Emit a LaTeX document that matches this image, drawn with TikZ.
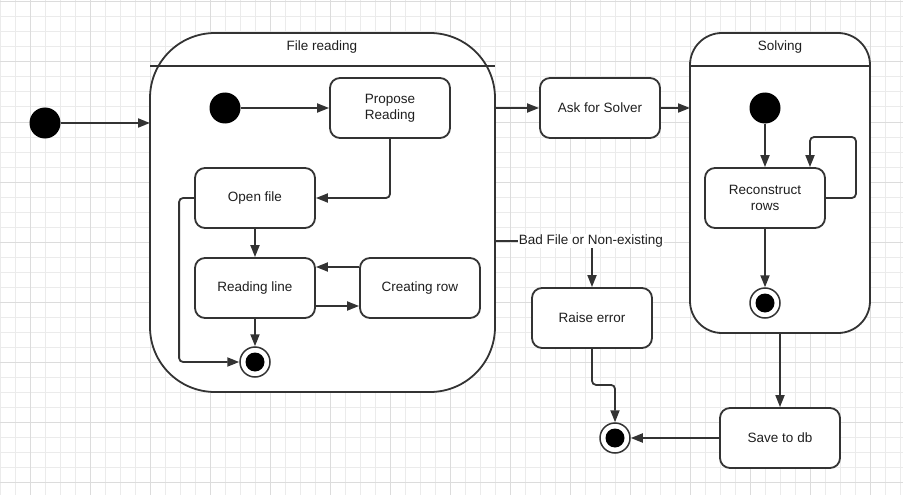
\documentclass[tikz,border=0pt]{standalone}
\usepackage{fontspec}
\setmainfont{Liberation Sans}
\usetikzlibrary{arrows.meta}
\definecolor{gridminor}{HTML}{EBEBEB}
\definecolor{gridmajor}{HTML}{DCDCDC}
\definecolor{linegray}{HTML}{333333}
\begin{document}
\begin{tikzpicture}[x=1pt,y=-1pt,
    >={Triangle[length=12pt,width=9pt]},
    every node/.style={font=\fontsize{13.5}{16}\selectfont,text=black!88},
    stbox/.style={draw=linegray,fill=white,line width=1.8pt,
      rounded corners=10pt,minimum width=120pt,minimum height=60pt,
      align=center,inner sep=0pt},
    compound/.style={draw=linegray,fill=white,line width=1.8pt,
      inner sep=0pt,outer sep=0pt},
    startdot/.style={circle,fill=black,minimum size=31pt,inner sep=0pt},
    enddot/.style={circle,draw=linegray,fill=white,line width=1.5pt,
      minimum size=30pt,inner sep=0pt,
      path picture={\fill[black] (path picture bounding box.center) circle (9.5pt);}},
    trans/.style={draw=linegray,line width=1.8pt,rounded corners=4pt},
    guard/.style={fill=white,inner sep=1pt}]
  \useasboundingbox
    (0,0)
    rectangle
    (903,495);
  \foreach \gx in {0,15,...,900}
    \draw[gridminor,line width=1pt]
      (\gx,0)
      --
      (\gx,495);
  \foreach \gy in {2,17,...,494}
    \draw[gridminor,line width=1pt]
      (0,\gy)
      --
      (903,\gy);
  \foreach \gx in {30,90,...,870}
    \draw[gridmajor,line width=1pt]
      (\gx,0)
      --
      (\gx,495);
  \foreach \gy in {2,62,...,482}
    \draw[gridmajor,line width=1pt]
      (0,\gy)
      --
      (903,\gy);

  \node[compound,rounded corners=65pt,minimum width=345pt,minimum height=359pt]
    (fileread) at (322.5,212.5) {};
  \draw[linegray,line width=1.8pt]
    ([yshift=-33pt]fileread.north west)
    --
    ([yshift=-33pt]fileread.north east);
  \node (frtitle) at (322,47) {File reading};

  \node[compound,rounded corners=32pt,minimum width=180pt,minimum height=300pt]
    (solving) at (780,183) {};
  \draw[linegray,line width=1.8pt]
    ([yshift=-33pt]solving.north west)
    --
    ([yshift=-33pt]solving.north east);
  \node (soltitle) at (780,47) {Solving};

  \node[startdot] (start) at (45,123) {};
  \node[startdot] (fstart) at (225,108) {};
  \node[stbox] (propose) at (390,108) {Propose\\Reading};
  \node[stbox] (openfile) at (255,198) {Open file};
  \node[stbox] (readline) at (255,288) {Reading line};
  \node[stbox] (creating) at (420,288) {Creating row};
  \node[enddot] (fend) at (255,362) {};

  \node[stbox] (ask) at (600,108) {Ask for Solver};
  \node[startdot] (sstart) at (765,108) {};
  \node[stbox] (recon) at (765,198) {Reconstruct\\rows};
  \node[enddot] (send) at (765,303) {};

  \node[guard] (badlbl) at (591,241) {Bad File or Non-existing};
  \node[stbox] (raise) at (592,318) {Raise error};
  \node[stbox] (save) at (780,438) {Save to db};
  \node[enddot] (eend) at (615,438) {};

  \draw[trans,->]
    (start)
    --
    (start -| fileread.west);
  \draw[trans,->]
    (fstart)
    --
    (propose);
  \draw[trans,->]
    (propose.south)
    |-
    (openfile.east);
  \draw[trans,->]
    (openfile.west)
    -- ++(-15,0)
    |-
    (fend.west);
  \draw[trans,->]
    (openfile)
    --
    (readline);
  \draw[trans,->]
    ([yshift=21pt]creating.west)
    --
    ([yshift=21pt]readline.east);
  \draw[trans,->]
    ([yshift=-18pt]readline.east)
    --
    ([yshift=-18pt]creating.west);
  \draw[trans,->]
    (readline)
    --
    (fend);
  \draw[trans,->]
    (ask -| fileread.east)
    --
    (ask);
  \draw[trans,->]
    (ask)
    --
    (ask -| solving.west);
  \draw[trans,->]
    (sstart)
    --
    (recon);
  \draw[trans,->]
    (recon.east)
    -- ++(30,0)
    -- ++(0,-61)
    -|
    ([xshift=45pt]recon.north);
  \draw[trans,->]
    (recon)
    --
    (send);
  \draw[trans]
    (badlbl.west -| fileread.east)
    --
    (badlbl.west);
  \draw[trans,->]
    (badlbl.south -| raise.north)
    --
    (raise.north);
  \draw[trans,->]
    (raise.south)
    -- ++(0,36)
    -|
    (eend.north);
  \draw[trans,->]
    (solving.south)
    --
    (save);
  \draw[trans,->]
    (save)
    --
    (eend);
\end{tikzpicture}
\end{document}
